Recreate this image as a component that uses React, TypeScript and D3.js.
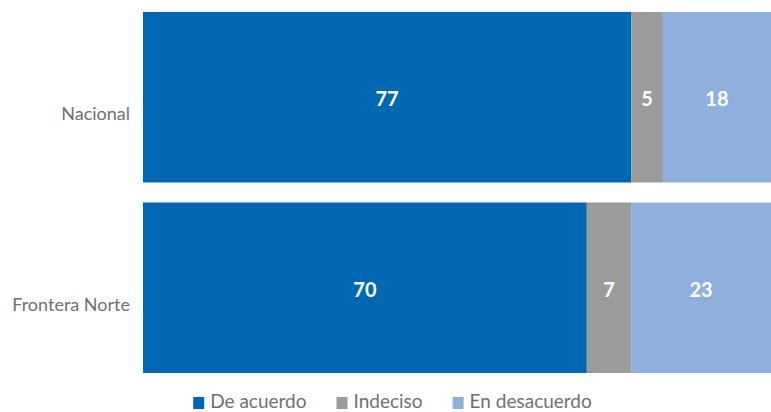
import React, { useEffect, useRef } from "react";
import * as d3 from "d3";

const categories = ["Nacional", "Frontera Norte"];
const seriesNames = ["De acuerdo", "Indeciso", "En desacuerdo"];
const deAcuerdo = [77, 70];
const indeciso = [5, 7];
const enDesacuerdo = [18, 23];
const colors = ["#0068B2", "#9B9B9B", "#8FB0DC"];

const W = 771;
const H = 412;

export default function App() {
  const ref = useRef<SVGSVGElement | null>(null);

  useEffect(() => {
    const svg = d3.select(ref.current);
    svg.selectAll("*").remove();

    const rows = categories.map((c, i) => ({
      cat: c,
      "De acuerdo": deAcuerdo[i],
      Indeciso: indeciso[i],
      "En desacuerdo": enDesacuerdo[i],
    }));
    const stack = d3.stack<any>().keys(seriesNames);
    const series = stack(rows);

    const x = d3.scaleLinear().domain([0, 100]).range([143, 777]);
    const y = d3
      .scaleBand<string>()
      .domain(categories)
      .range([12, 373])
      .paddingInner(0.105)
      .paddingOuter(0);
    const color = d3.scaleOrdinal<string, string>().domain(seriesNames).range(colors);

    const g = svg.append("g");
    series.forEach((s) => {
      const sg = g.append("g").attr("fill", color(s.key));
      sg.selectAll("rect")
        .data(s)
        .join("rect")
        .attr("x", (d: any) => x(d[0]))
        .attr("y", (d: any) => y(d.data.cat)!)
        .attr("width", (d: any) => x(d[1]) - x(d[0]))
        .attr("height", y.bandwidth());
      svg
        .append("g")
        .selectAll("text")
        .data(s)
        .join("text")
        .attr("x", (d: any) => (x(d[0]) + Math.min(x(d[1]), W)) / 2)
        .attr("y", (d: any) => y(d.data.cat)! + y.bandwidth() / 2 + 9)
        .attr("text-anchor", "middle")
        .attr("fill", "#ffffff")
        .attr("font-family", "Lato, sans-serif")
        .attr("font-weight", 700)
        .attr("font-size", 20)
        .text((d: any) => String(Math.round(d[1] - d[0])));
    });

    // category labels
    svg
      .append("g")
      .selectAll("text")
      .data(categories)
      .join("text")
      .attr("x", 130)
      .attr("y", (d) => y(d)! + y.bandwidth() / 2 + 23)
      .attr("text-anchor", "end")
      .attr("fill", "#707070")
      .attr("font-family", "Lato, sans-serif")
      .attr("font-size", 18)
      .text((d) => d);

    // legend
    const lg = svg.append("g");
    const items = lg.selectAll("g").data(seriesNames).join("g");
    items
      .append("rect")
      .attr("x", 0)
      .attr("y", 397)
      .attr("width", 11)
      .attr("height", 12)
      .attr("fill", (d) => color(d));
    const texts = items
      .append("text")
      .attr("x", 17)
      .attr("y", 408)
      .attr("fill", "#707070")
      .attr("font-family", "Lato, sans-serif")
      .attr("font-size", 19)
      .text((d) => d);
    let offset = 0;
    const positions: number[] = [];
    texts.each(function () {
      positions.push(offset);
      const len = (this as SVGTextElement).getComputedTextLength();
      offset += 17 + len + 30;
    });
    const total = offset - 30;
    const start = 392.5 - total / 2;
    items.attr("transform", (_d, i) => `translate(${start + positions[i]},0)`);
  }, []);

  return (
    <svg
      ref={ref}
      width={W}
      height={H}
      style={{ position: "absolute", left: 0, top: 0, background: "#fff" }}
    />
  );
}
